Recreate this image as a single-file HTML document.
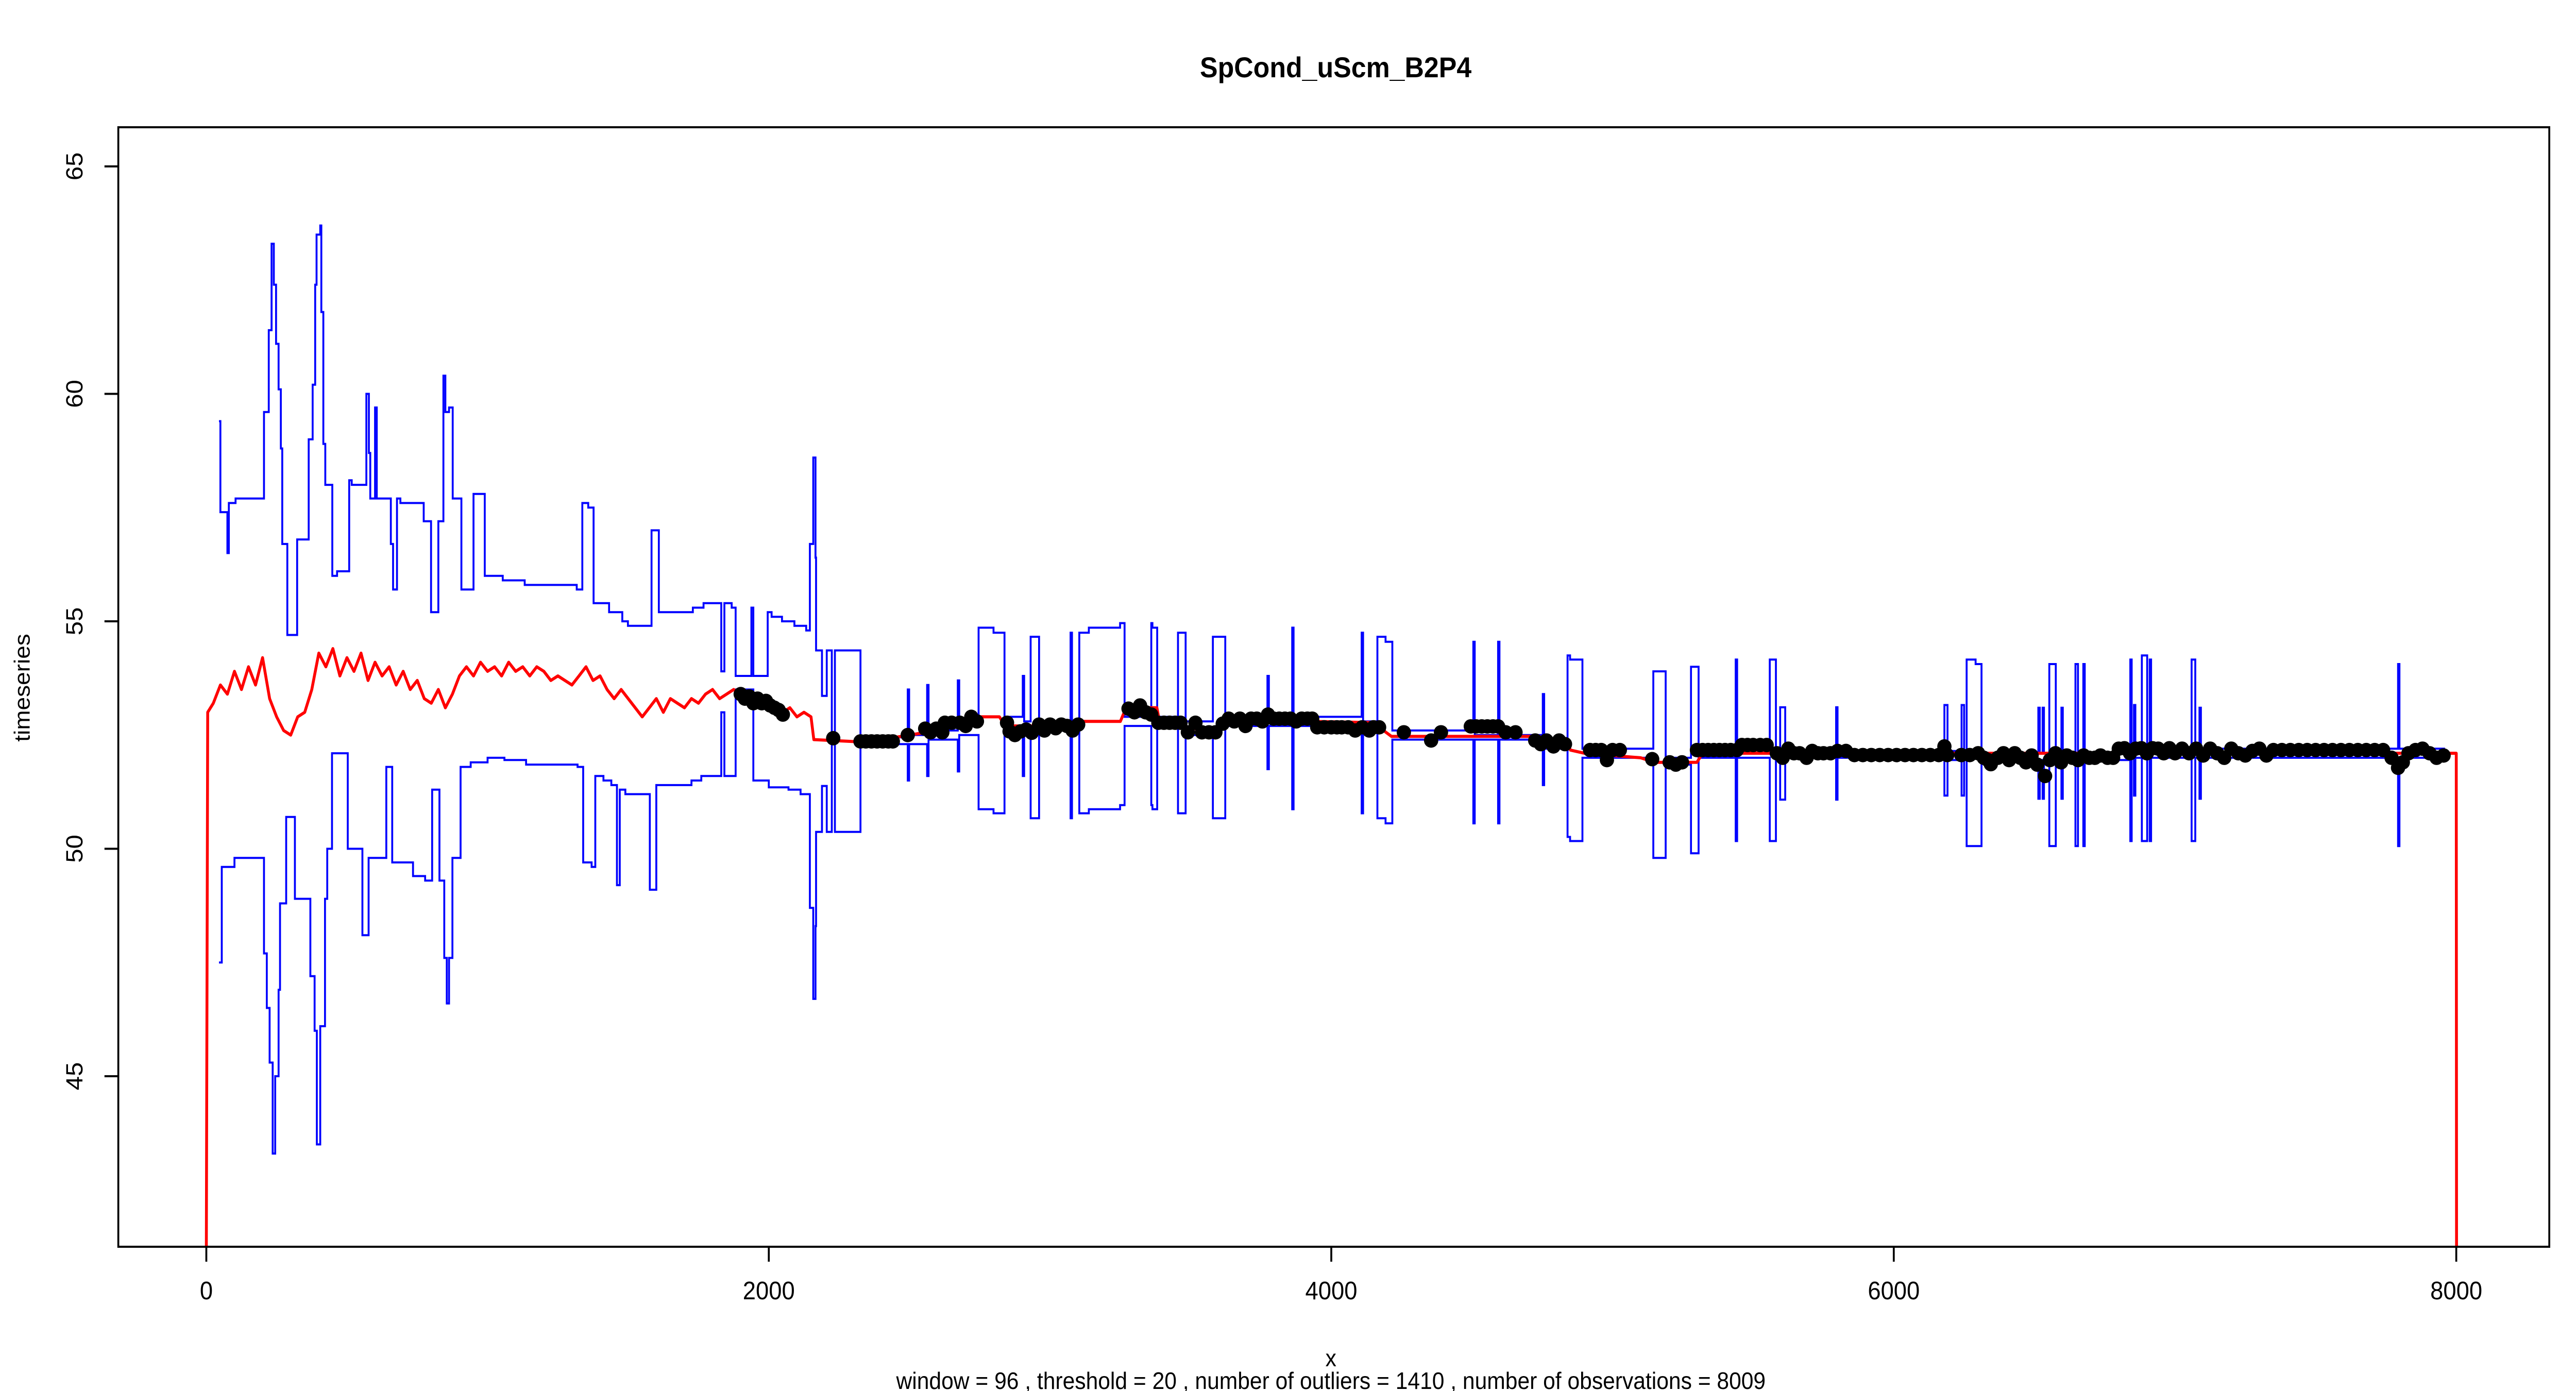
<!DOCTYPE html>
<html><head><meta charset="utf-8"><style>
html,body{margin:0;padding:0;background:#fff;width:100%;height:100%;overflow:hidden;}
svg{display:block;width:100vw;height:100vh;font-family:"Liberation Sans",Arial,sans-serif;}
</style></head><body>
<svg id="chart" viewBox="0 0 5400 2700" preserveAspectRatio="none" xmlns="http://www.w3.org/2000/svg">
<rect x="0" y="0" width="5400" height="2700" fill="#fff"/>
<text x="2800" y="150" font-size="56" font-weight="bold" text-anchor="middle">SpCond_uScm_B2P4</text>
<g id="plot"></g>
<rect x="248" y="247" width="5096" height="2173" fill="none" stroke="#000" stroke-width="4"/>
<g id="axes"></g>
<text x="2790" y="2652" font-size="46" text-anchor="middle">x</text>
<text transform="translate(62,1335) rotate(-90)" font-size="46" text-anchor="middle">timeseries</text>
<text x="2790" y="2696" font-size="46" text-anchor="middle">window =  96 , threshold =  20 , number of outliers =  1410 , number of observations =  8009</text>
</svg>
<script>
const xTicks=[0,2000,4000,6000,8000];
const yTicks=[45,50,55,60,65];
const redX=[0,5,25,50,75,100,125,150,175,200,225,250,275,300,325,350,375,400,425,450,475,500,525,550,575,600,625,650,675,700,725,750,775,800,825,850,875,900,925,950,975,1000,1025,1050,1075,1100,1125,1150,1175,1200,1225,1250,1275,1300,1325,1350,1375,1400,1425,1450,1475,1500,1525,1550,1575,1600,1625,1650,1675,1700,1725,1750,1775,1800,1825,1850,1875,1900,1925,1950,1975,2000,2025,2050,2075,2100,2125,2150,2160,2326,2450,2600,2700,2750,2820,2840,3100,3120,3250,3270,3380,3390,3470,3480,3610,3620,3930,4178,4190,4214,4740,4750,4840,4850,4900,5100,5150,5300,5320,5600,8000,8001];
const redY=[41.5,53.0,53.2,53.6,53.4,53.9,53.5,54.0,53.6,54.2,53.3,52.9,52.6,52.5,52.9,53.0,53.5,54.3,54.0,54.4,53.8,54.2,53.9,54.3,53.7,54.1,53.8,54.0,53.6,53.9,53.5,53.7,53.3,53.2,53.5,53.1,53.4,53.8,54.0,53.8,54.1,53.9,54.0,53.8,54.1,53.9,54.0,53.8,54.0,53.9,53.7,53.8,53.7,53.6,53.8,54.0,53.7,53.8,53.5,53.3,53.5,53.3,53.1,52.9,53.1,53.3,53.0,53.3,53.2,53.1,53.3,53.2,53.4,53.5,53.3,53.4,53.5,53.4,53.2,53.4,53.3,53.1,53.2,53.0,53.1,52.9,53.0,52.9,52.4,52.35,52.45,52.6,52.75,52.9,52.9,52.7,52.7,52.8,52.8,53.1,53.1,52.77,52.77,52.64,52.64,52.8,52.8,52.77,52.58,52.47,52.47,52.34,52.34,52.17,52.1,52.0,51.9,51.9,52.1,52.1,52.1,41.5];
const upperX=[45,50,75,80,104,205,222,232,240,248,257,265,270,288,323,364,378,387,392,405,409,416,423,448,465,508,517,569,578,583,600,606,656,664,678,690,773,799,825,843,850,863,876,907,950,990,1054,1132,1317,1337,1358,1377,1432,1479,1499,1583,1609,1730,1768,1831,1842,1868,1882,1938,1945,1996,2010,2047,2091,2133,2146,2158,2166,2168,2189,2206,2224,2235,2326,2494,2499,2563,2568,2672,2677,2746,2799,2838,2903,2908,2931,2961,3073,3078,3104,3138,3249,3265,3360,3364,3381,3455,3482,3579,3623,3773,3778,3861,3866,4108,4113,4164,4193,4217,4505,4510,4593,4598,4752,4757,4840,4849,4893,5145,5189,5279,5306,5438,5443,5559,5581,5596,5614,5795,5800,6180,6191,6241,6250,6259,6291,6312,6514,6519,6529,6534,6553,6576,6596,6601,6646,6655,6674,6679,6841,6846,6854,6859,6882,6901,6910,6915,7059,7072,7087,7092,7793,7798,7960];
const upperY=[59.4,57.4,56.5,57.6,57.7,59.6,61.4,63.3,62.4,61.1,60.1,58.8,56.7,54.7,56.8,59.0,60.2,62.4,63.5,63.7,61.8,58.9,58.0,56.0,56.1,58.1,58.0,60.0,58.7,57.7,59.7,57.7,56.7,55.7,57.7,57.6,57.2,55.2,57.2,60.4,59.6,59.7,57.7,55.7,57.8,56.0,55.9,55.8,55.7,57.6,57.5,55.4,55.2,55.0,54.9,57.0,55.2,55.3,55.4,53.9,55.4,55.3,53.8,55.3,53.8,55.2,55.1,55.0,54.9,54.8,56.7,58.6,56.4,54.36,53.36,54.36,52.5,54.36,52.45,53.5,52.5,53.6,52.6,53.7,52.8,54.86,54.75,52.9,53.8,52.8,54.66,52.8,54.75,52.8,54.75,54.86,54.96,52.9,54.96,54.86,52.9,54.75,52.8,54.66,52.9,53.8,52.9,54.86,52.9,54.75,52.8,54.66,54.55,52.6,54.55,52.5,54.55,52.5,53.4,52.4,54.25,54.16,52.2,53.9,52.0,54.0,52.2,54.16,52.2,54.16,52.15,53.11,52.15,53.11,52.15,53.16,52.15,53.16,52.15,54.16,54.06,52.1,53.1,52.1,53.1,52.1,54.06,52.1,53.1,52.1,54.06,52.1,54.06,52.1,54.16,52.2,53.16,52.2,54.25,52.2,54.16,52.2,54.16,52.2,53.1,52.2,54.06,52.2,52.2];
const lowerX=[45,55,100,205,215,225,236,245,257,262,284,315,340,370,385,393,405,422,430,447,503,555,577,640,661,735,778,803,829,846,855,863,875,904,940,1000,1060,1137,1320,1340,1370,1383,1412,1440,1460,1470,1490,1577,1600,1725,1760,1831,1842,1882,1945,2000,2070,2113,2146,2158,2166,2168,2189,2206,2224,2235,2326,2494,2499,2563,2568,2672,2677,2746,2799,2838,2903,2908,2931,2961,3073,3078,3104,3138,3249,3265,3360,3364,3381,3455,3482,3579,3623,3773,3778,3861,3866,4108,4113,4164,4193,4217,4505,4510,4593,4598,4752,4757,4840,4849,4893,5145,5189,5279,5306,5438,5443,5559,5581,5596,5614,5795,5800,6180,6191,6241,6250,6259,6312,6514,6519,6529,6534,6553,6576,6596,6601,6646,6655,6674,6679,6841,6846,6854,6859,6882,6901,6910,6915,7059,7072,7087,7092,7793,7798,7960];
const lowerY=[47.5,49.6,49.8,47.7,46.5,45.3,43.3,45.0,46.9,48.8,50.7,48.9,48.9,47.2,46.0,43.5,46.1,48.9,50.0,52.1,50.0,48.1,49.8,51.8,49.7,49.4,49.3,51.3,49.3,47.6,46.6,47.6,49.8,51.8,51.9,52.0,51.95,51.85,51.8,49.7,49.6,51.6,51.5,51.4,49.2,51.3,51.2,49.1,51.4,51.5,51.6,53.0,51.6,53.5,51.5,51.35,51.3,51.2,48.7,46.7,48.3,50.37,51.38,50.37,52.3,50.37,52.3,51.5,52.3,51.6,52.4,51.7,52.5,50.87,50.78,52.6,51.6,52.6,50.67,52.6,50.67,52.6,50.78,50.87,50.96,52.7,50.96,50.87,52.7,50.78,52.5,50.67,52.7,51.75,52.7,50.87,52.7,50.78,52.6,50.67,50.56,52.4,50.56,52.4,50.56,52.4,51.4,52.2,50.26,50.17,52.0,49.8,51.85,49.9,52.0,50.17,52.0,50.17,52.0,51.08,52.0,51.08,52.0,51.17,51.95,51.17,51.95,50.06,51.95,51.1,51.95,51.1,51.95,50.06,51.95,51.1,51.95,50.06,51.95,50.06,51.95,50.17,52.0,51.17,52.0,50.17,52.0,50.17,52.0,50.17,52.0,51.1,52.0,50.06,52.0,52.0];
const outX=[1900,1915,1930,1945,1960,1975,1990,2005,2020,2035,2050,2229,2326,2345,2365,2385,2405,2425,2441,2494,2556,2575,2595,2617,2626,2650,2679,2700,2720,2740,2847,2856,2875,2895,2915,2935,2961,2980,3000,3020,3040,3060,3080,3100,3279,3300,3320,3340,3360,3385,3405,3425,3445,3464,3490,3517,3540,3565,3588,3614,3635,3655,3675,3695,3715,3735,3755,3775,3795,3815,3835,3855,3875,3895,3915,3932,3950,3975,4000,4020,4037,4060,4085,4110,4135,4150,4170,4258,4355,4390,4496,4515,4535,4555,4575,4593,4620,4655,4725,4745,4765,4790,4810,4831,4920,4940,4960,4980,5000,5026,5141,5203,5225,5247,5300,5320,5340,5360,5380,5400,5420,5442,5460,5480,5500,5525,5548,5584,5605,5625,5645,5665,5690,5710,5730,5750,5775,5800,5830,5860,5890,5920,5950,5980,6010,6040,6070,6100,6130,6160,6190,6180,6240,6270,6300,6320,6335,6345,6370,6390,6410,6430,6450,6470,6490,6510,6538,6555,6575,6595,6615,6635,6655,6675,6695,6715,6735,6760,6780,6800,6820,6840,6860,6880,6900,6920,6940,6960,6980,7000,7025,7050,7075,7100,7125,7150,7175,7200,7225,7250,7275,7300,7325,7350,7380,7410,7440,7470,7500,7530,7560,7590,7620,7650,7680,7710,7740,7770,7793,7810,7830,7855,7880,7905,7930,7955];
const outY=[53.4,53.3,53.35,53.2,53.3,53.2,53.25,53.15,53.1,53.05,52.95,52.43,52.36,52.36,52.36,52.36,52.36,52.36,52.36,52.5,52.64,52.56,52.64,52.56,52.77,52.77,52.77,52.7,52.9,52.8,52.77,52.58,52.5,52.58,52.62,52.55,52.73,52.6,52.73,52.65,52.73,52.7,52.6,52.73,53.08,53.0,53.15,53.0,52.95,52.77,52.77,52.77,52.77,52.77,52.56,52.77,52.56,52.56,52.56,52.75,52.86,52.8,52.86,52.7,52.86,52.86,52.8,52.95,52.86,52.86,52.86,52.86,52.8,52.86,52.86,52.86,52.67,52.67,52.67,52.67,52.67,52.67,52.6,52.67,52.6,52.67,52.67,52.56,52.38,52.56,52.69,52.69,52.69,52.69,52.69,52.69,52.56,52.56,52.38,52.3,52.38,52.25,52.38,52.3,52.17,52.17,52.17,51.95,52.17,52.17,51.97,51.9,51.85,51.9,52.17,52.17,52.17,52.17,52.17,52.17,52.17,52.17,52.28,52.28,52.28,52.28,52.28,52.1,52.0,52.2,52.1,52.1,52.0,52.15,52.1,52.1,52.1,52.15,52.15,52.06,52.06,52.06,52.06,52.06,52.06,52.06,52.06,52.06,52.06,52.06,52.06,52.25,52.06,52.06,52.1,52.0,51.95,51.86,52.0,52.1,51.95,52.1,52.0,51.9,52.05,51.85,51.6,51.95,52.1,51.9,52.05,52.0,51.95,52.05,52.0,52.0,52.05,52.0,52.0,52.2,52.21,52.1,52.2,52.21,52.1,52.21,52.2,52.1,52.21,52.1,52.2,52.1,52.2,52.05,52.2,52.1,52.0,52.2,52.1,52.05,52.15,52.2,52.05,52.17,52.17,52.17,52.17,52.17,52.17,52.17,52.17,52.17,52.17,52.17,52.17,52.17,52.17,52.0,51.78,51.9,52.1,52.17,52.2,52.1,52.0,52.05];

const NS="http://www.w3.org/2000/svg";
function sx(v){return 432.5+v*(5149-432.5)/8000;}
function sy(v){return 323+(65-v)*88.3;}
const plot=document.getElementById('plot');
const axes=document.getElementById('axes');
function mk(tag,attrs,parent){const e=document.createElementNS(NS,tag);for(const k in attrs)e.setAttribute(k,attrs[k]);parent.appendChild(e);return e;}

const defs=mk('defs',{},plot);
const cp=mk('clipPath',{id:'clip'},defs);
mk('rect',{x:248,y:247,width:5096,height:2173},cp);
const g=mk('g',{'clip-path':'url(#clip)'},plot);

function stepPath(xs,ys){let d='M'+sx(xs[0]).toFixed(1)+' '+sy(ys[0]).toFixed(1);for(let i=1;i<xs.length;i++){d+=' H'+sx(xs[i]).toFixed(1)+' V'+sy(ys[i]).toFixed(1);}return d;}
function linePath(xs,ys){let d='';for(let i=0;i<xs.length;i++){d+=(i?' L':'M')+sx(xs[i]).toFixed(1)+' '+sy(ys[i]<42?41.0:ys[i]).toFixed(1);}return d;}

const up=mk('path',{d:stepPath(upperX,upperY),fill:'none',stroke:'#0000ff','stroke-width':4},g);


const lo=mk('path',{d:stepPath(lowerX,lowerY),fill:'none',stroke:'#0000ff','stroke-width':4},g);


const red=mk('path',{d:linePath(redX,redY),fill:'none',stroke:'#ff0000','stroke-width':6,'stroke-linejoin':'round'},g);


for(let i=0;i<outX.length;i++){
  const c=mk('ellipse',{cx:sx(outX[i]),cy:sy(outY[i]),rx:15,ry:14,fill:'#000'},g);
  
  
}
for(const t of xTicks){
  const x=sx(t);
  const l=mk('line',{x1:x,y1:2420,x2:x,y2:2449,stroke:'#000','stroke-width':4},axes);
  
  
  const tx=mk('text',{x:x,y:2522,'font-size':49,'text-anchor':'middle'},axes);
  tx.textContent=t;
  
  
}
mk('line',{x1:sx(0),y1:2420,x2:sx(8000),y2:2420,stroke:'#000','stroke-width':4},axes);
for(const t of yTicks){
  const y=sy(t);
  const l=mk('line',{x1:219,y1:y,x2:248,y2:y,stroke:'#000','stroke-width':4},axes);
  
  
  const tx=mk('text',{transform:'translate(173,'+y+') rotate(-90)','font-size':49,'text-anchor':'middle'},axes);
  tx.textContent=t;
  
  
}
</script>
</body></html>
